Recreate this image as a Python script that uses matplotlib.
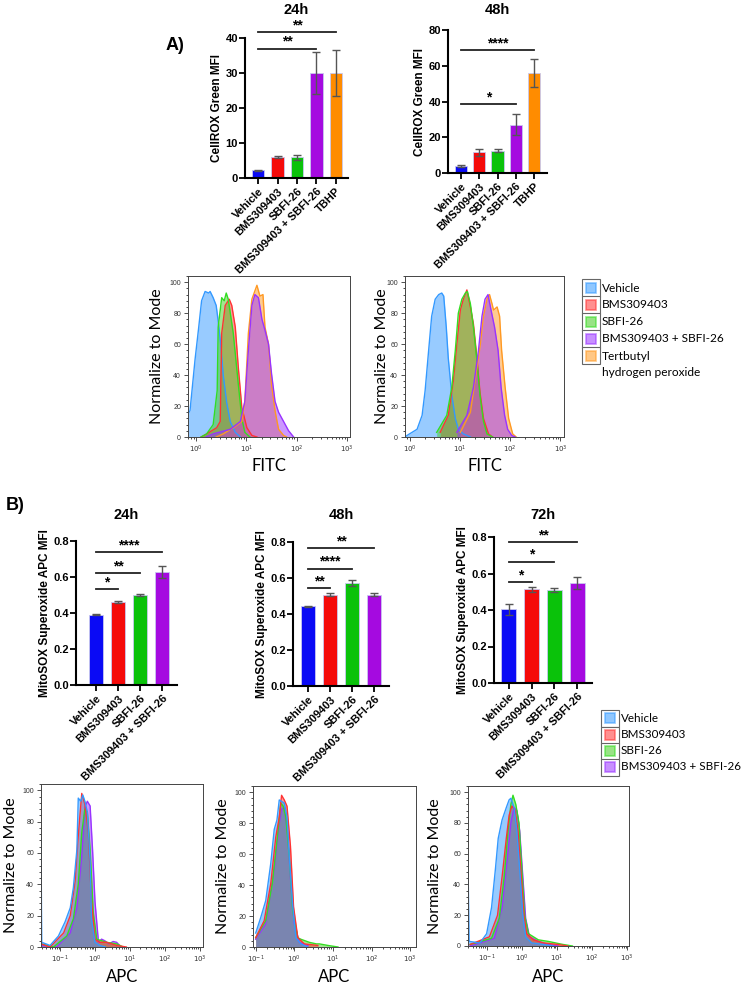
import numpy as np
import matplotlib
matplotlib.use('Agg')
import matplotlib.pyplot as plt
from matplotlib.patches import Rectangle
from matplotlib.ticker import FixedLocator, MultipleLocator, NullFormatter

plt.rcParams['font.family'] = ['Liberation Sans', 'DejaVu Sans']

W, H = 744, 984

# ---------------- data: bar charts ----------------
a_labels = ['Vehicle', 'BMS309403', 'SBFI-26', 'BMS309403 + SBFI-26', 'TBHP']
a24_vals = [2.2, 6.0, 5.9, 30.0, 30.0]
a24_errs = [0.2, 0.4, 0.7, 5.9, 6.6]
a48_vals = [4.0, 11.5, 12.5, 27.0, 56.0]
a48_errs = [0.5, 2.2, 0.8, 6.0, 8.0]
a24_sig = [(0, 3, 36.9, '**'), (0, 4, 41.7, '**')]
a48_sig = [(0, 3, 38.5, '*'), (0, 4, 68.7, '****')]

b_labels = ['Vehicle', 'BMS309403', 'SBFI-26', 'BMS309403 + SBFI-26']
b24_vals = [0.390, 0.459, 0.502, 0.628]
b24_errs = [0.002, 0.005, 0.005, 0.033]
b48_vals = [0.444, 0.506, 0.572, 0.506]
b48_errs = [0.003, 0.008, 0.015, 0.008]
b72_vals = [0.404, 0.513, 0.509, 0.549]
b72_errs = [0.030, 0.015, 0.010, 0.032]
b24_sig = [(0, 1, 0.531, '*'), (0, 2, 0.620, '**'), (0, 3, 0.739, '****')]
b48_sig = [(0, 1, 0.544, '**'), (0, 2, 0.652, '****'), (0, 3, 0.765, '**')]
b72_sig = [(0, 1, 0.553, '*'), (0, 2, 0.664, '*'), (0, 3, 0.771, '**')]

bar_colors = ['#0a0af5', '#f50a0a', '#0ac20a', '#a50ae0', '#ff8c00']

# ---------------- data: histograms (log10 x, % of mode) ----------------
a24_veh_x = [-0.16, -0.12, -0.02, 0.05, 0.11, 0.18, 0.25, 0.28, 0.34, 0.40, 0.44, 0.49, 0.54, 0.61, 0.68, 0.78, 0.88]
a24_veh_y = [15, 17, 50, 70, 88, 94, 93, 94, 90, 85, 75, 60, 40, 22, 10, 3, 0]
a24_bms_x = [0.10, 0.21, 0.41, 0.48, 0.51, 0.58, 0.66, 0.71, 0.78, 0.84, 0.91, 1.01, 1.11, 1.21]
a24_bms_y = [0, 2, 6, 10, 67, 85, 89, 85, 71, 45, 19, 6, 1, 0]
a24_sbfi_x = [0.10, 0.21, 0.34, 0.42, 0.44, 0.51, 0.56, 0.60, 0.64, 0.74, 0.84, 0.91, 0.97, 1.07]
a24_sbfi_y = [0, 2, 8, 30, 71, 90, 88, 93, 89, 67, 34, 12, 3, 0]
a24_combo_x = [0.20, 0.34, 0.68, 0.88, 0.97, 1.04, 1.11, 1.17, 1.24, 1.31, 1.37, 1.44, 1.50, 1.57, 1.64, 1.74, 1.84, 1.94]
a24_combo_y = [0, 2, 5, 10, 23, 56, 85, 92, 90, 76, 69, 60, 41, 23, 16, 10, 4, 0]
a24_tbhp_x = [0.40, 0.54, 0.74, 0.91, 0.97, 1.04, 1.11, 1.21, 1.27, 1.33, 1.37, 1.44, 1.50, 1.57, 1.64, 1.74, 1.80]
a24_tbhp_y = [0, 2, 6, 10, 23, 67, 89, 98, 91, 92, 71, 60, 34, 17, 5, 1, 0]

a48_veh_x = [-0.09, -0.05, 0.15, 0.25, 0.31, 0.38, 0.44, 0.51, 0.58, 0.64, 0.68, 0.73, 0.77, 0.84, 0.91, 0.97, 1.07, 1.21]
a48_veh_y = [0, 1, 5, 14, 30, 56, 78, 89, 92, 93, 91, 71, 51, 27, 12, 5, 2, 0]
a48_bms_x = [0.61, 0.77, 0.87, 0.94, 1.01, 1.07, 1.14, 1.21, 1.27, 1.34, 1.40, 1.47, 1.57, 1.65]
a48_bms_y = [3, 14, 36, 60, 82, 89, 95, 84, 73, 51, 29, 12, 2, 0]
a48_sbfi_x = [0.54, 0.74, 0.84, 0.91, 0.97, 1.04, 1.11, 1.15, 1.21, 1.27, 1.34, 1.40, 1.47, 1.54, 1.65]
a48_sbfi_y = [3, 14, 32, 56, 80, 89, 93, 94, 86, 71, 49, 27, 10, 2, 0]
a48_combo_x = [0.94, 1.14, 1.27, 1.37, 1.44, 1.50, 1.56, 1.62, 1.69, 1.76, 1.82, 1.89, 1.95, 2.03, 2.10]
a48_combo_y = [3, 14, 32, 56, 78, 89, 92, 82, 71, 56, 32, 14, 5, 1, 0]
a48_tbhp_x = [1.01, 1.21, 1.30, 1.40, 1.47, 1.54, 1.59, 1.64, 1.67, 1.74, 1.79, 1.83, 1.90, 1.97, 2.05, 2.12]
a48_tbhp_y = [3, 16, 36, 58, 78, 89, 92, 86, 82, 84, 78, 56, 32, 12, 2, 0]

b24_veh_x = [-1.55, -1.53, -1.29, -1.05, -0.86, -0.71, -0.62, -0.52, -0.48, -0.41, -0.35, -0.29, -0.22, -0.14, -0.10, 0.0, 0.14, 0.30]
b24_veh_y = [69, 3, 1, 7, 16, 25, 38, 62, 95, 93, 97, 93, 86, 55, 18, 3, 1, 0]
b24_bms_x = [-1.55, -1.29, -0.90, -0.71, -0.57, -0.48, -0.38, -0.29, -0.19, -0.10, 0.0, 0.14, 0.33, 0.62, 0.90]
b24_bms_y = [2, 0, 9, 20, 42, 71, 98, 91, 73, 29, 5, 3, 3, 1, 0]
b24_sbfi_x = [-1.55, -1.19, -0.81, -0.62, -0.48, -0.38, -0.29, -0.22, -0.14, -0.05, 0.05, 0.33, 0.62, 0.81]
b24_sbfi_y = [2, 0, 7, 18, 40, 73, 88, 86, 62, 22, 5, 3, 2, 0]
b24_combo_x = [-1.55, -1.10, -0.71, -0.52, -0.38, -0.29, -0.22, -0.14, -0.07, 0.0, 0.10, 0.19, 0.28, 0.40, 0.52, 0.62, 0.75]
b24_combo_y = [1, 0, 9, 25, 58, 89, 93, 90, 62, 29, 3, 5, 4, 2, 3.5, 3, 0]

b48_veh_x = [-1.0, -0.87, -0.74, -0.61, -0.52, -0.45, -0.39, -0.33, -0.26, -0.19, -0.13, -0.04, 0.04, 0.17, 0.35]
b48_veh_y = [9, 19, 30, 54, 76, 82, 95, 94, 93, 84, 58, 26, 6, 2, 0]
b48_bms_x = [-1.0, -0.78, -0.61, -0.48, -0.39, -0.33, -0.26, -0.19, -0.10, -0.02, 0.09, 0.26, 0.61]
b48_bms_y = [6, 17, 41, 71, 84, 98, 95, 91, 65, 26, 6, 2, 1]
b48_sbfi_x = [-1.0, -0.74, -0.57, -0.43, -0.35, -0.29, -0.22, -0.13, -0.04, 0.09, 0.17, 0.39, 0.57, 0.65, 0.87, 1.13]
b48_sbfi_y = [6, 17, 41, 73, 93, 91, 84, 58, 23, 6, 5, 3, 2, 2, 1, 0]
b48_combo_x = [-1.0, -0.74, -0.52, -0.39, -0.33, -0.26, -0.17, -0.09, 0.0, 0.13, 0.35]
b48_combo_y = [5, 15, 50, 80, 89, 90, 73, 41, 15, 3, 1]

b72_veh_x = [-1.53, -1.50, -1.19, -1.0, -0.86, -0.75, -0.67, -0.56, -0.44, -0.36, -0.31, -0.22, -0.14, -0.06, 0.03, 0.11, 0.28, 0.61, 0.89]
b72_veh_y = [55, 3, 2, 8, 25, 50, 70, 82, 90, 95, 96, 90, 75, 50, 20, 6, 2, 1, 0]
b72_bms_x = [-1.47, -0.92, -0.69, -0.56, -0.44, -0.36, -0.28, -0.19, -0.11, -0.03, 0.06, 0.14, 0.33, 0.61, 1.03, 1.31]
b72_bms_y = [1, 6, 20, 45, 70, 85, 91, 88, 75, 50, 20, 8, 4, 2, 1, 0]
b72_sbfi_x = [-1.47, -0.86, -0.64, -0.50, -0.39, -0.31, -0.25, -0.17, -0.08, 0.0, 0.08, 0.19, 0.47, 0.75, 1.17, 1.44]
b72_sbfi_y = [1, 5, 18, 45, 75, 92, 98, 92, 80, 50, 20, 8, 4, 3, 1, 0]
b72_combo_x = [-1.47, -0.78, -0.56, -0.42, -0.31, -0.22, -0.14, -0.06, 0.03, 0.11, 0.22, 0.47, 0.75, 1.03]
b72_combo_y = [0, 5, 25, 55, 80, 90, 88, 75, 45, 18, 6, 3, 1, 0]

hist_edge = ['#3399ff', '#ff3333', '#33dd22', '#9933ff', '#ff9922']
hist_fill = ['#3399ff', '#ff3333', '#44cc22', '#9933ff', '#ff9922']
a_leg = ['Vehicle', 'BMS309403', 'SBFI-26', 'BMS309403 + SBFI-26', 'Tertbutyl']
b_leg = ['Vehicle', 'BMS309403', 'SBFI-26', 'BMS309403 + SBFI-26']

fig = plt.figure(figsize=(W / 100, H / 100), dpi=100)


def px_axes(x0, y0, x1, y1):
    return fig.add_axes([x0 / W, 1 - y1 / H, (x1 - x0) / W, (y1 - y0) / H])


def bar_panel(box, xlim, title, title_y, labels, vals, errs, ylim, yticks, ylabel, sig):
    ax = px_axes(*box)
    x = np.arange(len(vals))
    ax.bar(x, vals, width=0.66, color=bar_colors[:len(vals)], edgecolor='#c8c8f0', linewidth=0.6)
    ax.errorbar(x, vals, yerr=errs, fmt='none', ecolor='#555555', elinewidth=1, capsize=3, capthick=1)
    ax.set_xlim(*xlim)
    ax.set_ylim(*ylim)
    ax.set_yticks(yticks)
    ax.set_xticks(x)
    ax.set_xticklabels(labels, rotation=45, ha='right', rotation_mode='anchor', fontsize=8, fontweight='bold')
    for t in ax.get_yticklabels():
        t.set_fontweight('bold')
        t.set_fontsize(8)
    ax.set_ylabel(ylabel, fontsize=8.5, fontweight='bold', labelpad=2)
    for s in ['top', 'right']:
        ax.spines[s].set_visible(False)
    for s in ['left', 'bottom']:
        ax.spines[s].set_linewidth(1.5)
    ax.tick_params(width=1.3, length=4, pad=2)
    ax.tick_params(axis='y', pad=1)
    for i, j, y, txt in sig:
        ax.plot([i, j], [y, y], color='#222222', lw=1.3, clip_on=False)
        ax.text((i + j) / 2, y, txt, ha='center', va='bottom', fontsize=10, fontweight='bold', clip_on=False)
    cx = (box[0] + box[2]) / 2
    fig.text(cx / W, 1 - title_y / H, title, ha='center', va='center', fontsize=10.5, fontweight='bold')
    return ax


def hist_panel(box, xlim, curves, order, xlabel, xlabel_y, ylabel_x):
    ax = px_axes(*box)
    for k in order:
        xs, ys = curves[k]
        xv = 10 ** np.array(xs)
        ax.fill_between(xv, ys, color=hist_fill[k], alpha=0.5, lw=0)
        ax.plot(xv, ys, color=hist_edge[k], lw=1.0)
    ax.set_xscale('log')
    ax.set_xlim(10 ** xlim[0], 10 ** xlim[1])
    ax.set_ylim(0, 104)
    dec = [d for d in range(-2, 4) if xlim[0] <= d <= xlim[1] + 0.01]
    ax.xaxis.set_major_locator(FixedLocator([10.0 ** d for d in dec]))
    ax.set_xticklabels(['$10^{%d}$' % d for d in dec])
    minors = [m * 10.0 ** d for d in range(-2, 4) for m in range(2, 10)]
    ax.xaxis.set_minor_locator(FixedLocator(minors))
    ax.xaxis.set_minor_formatter(NullFormatter())
    ax.set_yticks([0, 20, 40, 60, 80, 100])
    ax.yaxis.set_minor_locator(MultipleLocator(4))
    ax.tick_params(labelsize=5, length=3, width=0.6, pad=2, colors='#333333')
    ax.tick_params(which='minor', length=1.6, width=0.5)
    for s in ax.spines.values():
        s.set_linewidth(0.7)
        s.set_color('#444444')
    cy = (box[1] + box[3]) / 2
    fig.text(ylabel_x / W, 1 - cy / H, 'Normalize to Mode', rotation=90, ha='center', va='center',
             fontsize=11.5, family='Lato')
    cx = (box[0] + box[2]) / 2
    fig.text(cx / W, 1 - xlabel_y / H, xlabel, ha='center', va='center', fontsize=12, family='Lato')
    return ax


def legend_box(x0, y_rows, labels, fs, extra=None):
    for k, (lab, yc) in enumerate(zip(labels, y_rows)):
        fig.add_artist(Rectangle((x0 / W, 1 - (yc + 8.5) / H), 18 / W, 17 / H, transform=fig.transFigure,
                                 facecolor='white', edgecolor='#666666', lw=0.8))
        fig.add_artist(Rectangle(((x0 + 4) / W, 1 - (yc + 5) / H), 10 / W, 10 / H, transform=fig.transFigure,
                                 facecolor=hist_fill[k], edgecolor=hist_edge[k], lw=1.2, alpha=0.55))
        fig.text((x0 + 20) / W, 1 - yc / H, lab, ha='left', va='center', fontsize=fs, family='Lato')
    if extra:
        fig.text((x0 + 20) / W, 1 - extra[1] / H, extra[0], ha='left', va='center', fontsize=fs, family='Lato')


# ---------------- Panel A ----------------
bar_panel((245, 38, 348, 178), (-0.67, 4.62), '24h', 10, a_labels, a24_vals, a24_errs,
          (0, 40), [0, 10, 20, 30, 40], 'CellROX Green MFI', a24_sig)
bar_panel((448, 30, 547, 173), (-0.71, 4.71), '48h', 10, a_labels, a48_vals, a48_errs,
          (0, 80), [0, 20, 40, 60, 80], 'CellROX Green MFI', a48_sig)
fig.text(175 / W, 1 - 45 / H, 'A)', ha='center', va='center', fontsize=13, fontweight='bold')

a_order = [0, 1, 2, 4, 3]
hist_panel((188, 276, 350, 437), (-0.16, 3.06),
           [(a24_veh_x, a24_veh_y), (a24_bms_x, a24_bms_y), (a24_sbfi_x, a24_sbfi_y),
            (a24_combo_x, a24_combo_y), (a24_tbhp_x, a24_tbhp_y)], a_order, 'FITC', 466, 157)
hist_panel((405, 276, 564, 437), (-0.09, 3.07),
           [(a48_veh_x, a48_veh_y), (a48_bms_x, a48_bms_y), (a48_sbfi_x, a48_sbfi_y),
            (a48_combo_x, a48_combo_y), (a48_tbhp_x, a48_tbhp_y)], a_order, 'FITC', 466, 382)
legend_box(582, [288, 305, 322, 339, 356], a_leg, 8.6, extra=('hydrogen peroxide', 372))

# ---------------- Panel B ----------------
bar_panel((76, 541, 177, 685), (-0.91, 3.68), '24h', 515, b_labels, b24_vals, b24_errs,
          (0, 0.8), [0.0, 0.2, 0.4, 0.6, 0.8], 'MitoSOX Superoxide APC MFI', b24_sig)
bar_panel((293, 542, 389, 686), (-0.68, 3.68), '48h', 515, b_labels, b48_vals, b48_errs,
          (0, 0.8), [0.0, 0.2, 0.4, 0.6, 0.8], 'MitoSOX Superoxide APC MFI', b48_sig)
bar_panel((494, 537, 592, 683), (-0.66, 3.66), '72h', 515, b_labels, b72_vals, b72_errs,
          (0, 0.8), [0.0, 0.2, 0.4, 0.6, 0.8], 'MitoSOX Superoxide APC MFI', b72_sig)
fig.text(15 / W, 1 - 505 / H, 'B)', ha='center', va='center', fontsize=13, fontweight='bold')

b_order = [3, 2, 1, 0]
hist_panel((41, 784, 203, 947), (-1.55, 3.1),
           [(b24_veh_x, b24_veh_y), (b24_bms_x, b24_bms_y), (b24_sbfi_x, b24_sbfi_y),
            (b24_combo_x, b24_combo_y)], b_order, 'APC', 977, 11)
hist_panel((253, 786, 416, 947), (-1.07, 3.15),
           [(b48_veh_x, b48_veh_y), (b48_bms_x, b48_bms_y), (b48_sbfi_x, b48_sbfi_y),
            (b48_combo_x, b48_combo_y)], b_order, 'APC', 977, 223)
hist_panel((468, 786, 629, 946), (-1.53, 3.05),
           [(b72_veh_x, b72_veh_y), (b72_bms_x, b72_bms_y), (b72_sbfi_x, b72_sbfi_y),
            (b72_combo_x, b72_combo_y)], b_order, 'APC', 977, 435)
legend_box(601, [718, 735, 751, 767], b_leg, 8.4)

fig.savefig('out.png', dpi=100)
